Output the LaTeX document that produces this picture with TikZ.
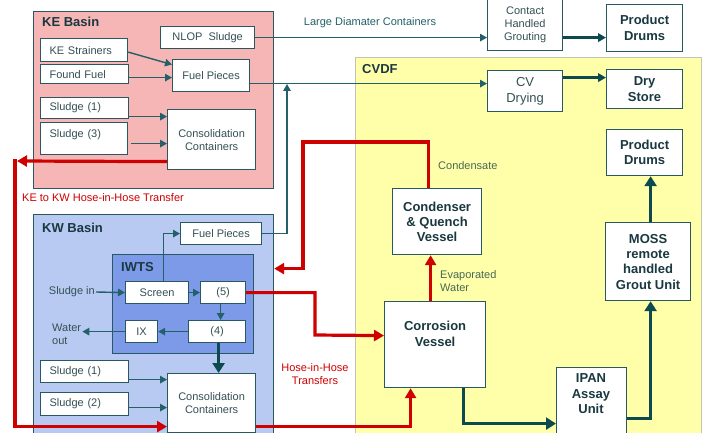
\documentclass[tikz,border=0pt]{standalone}
\usepackage{fontspec}
\setmainfont{Liberation Sans}
\usetikzlibrary{arrows.meta}

\definecolor{kefill}{RGB}{247,182,182}
\definecolor{kwfill}{RGB}{184,202,242}
\definecolor{iwtsfill}{RGB}{124,154,232}
\definecolor{cvdffill}{RGB}{255,255,170}
\definecolor{cvdfedge}{RGB}{196,196,180}
\definecolor{frame}{RGB}{42,88,96}
\definecolor{flow}{RGB}{36,96,106}
\definecolor{heavy}{RGB}{12,74,80}
\definecolor{hose}{RGB}{206,0,0}
\definecolor{ink}{RGB}{52,80,84}
\definecolor{inkdark}{RGB}{26,56,64}
\definecolor{note}{RGB}{72,104,84}

\tikzset{
  area/.style={draw=frame, line width=1.2pt, anchor=north west, inner sep=0pt},
  unit/.style={draw=frame, line width=1.2pt, fill=white, anchor=north west,
    inner sep=0pt, text=ink, align=center},
  lunit/.style={unit, align=left, inner xsep=9pt},
  heading/.style={anchor=west, inner sep=0pt, text=inkdark,
    font=\fontsize{13}{15}\selectfont\bfseries},
  btext/.style={text=inkdark, align=center,
    font=\fontsize{13}{15.5}\selectfont\bfseries},
  flowline/.style={draw=flow, line width=1.4pt, -{Triangle[length=7pt,width=7.5pt]}},
  midline/.style={draw=heavy, line width=2.2pt, -{Triangle[length=8pt,width=8.5pt]}},
  heavyline/.style={draw=heavy, line width=3.6pt, -{Triangle[length=10pt,width=12pt]}},
  hoseline/.style={draw=hose, line width=3.2pt, -{Triangle[length=10pt,width=11pt]}},
  hosetext/.style={text=hose, align=center, inner sep=0pt},
  notetext/.style={text=note, align=left, inner sep=0pt},
}

\begin{document}
\begin{tikzpicture}[x=1pt, y=-1pt, font=\fontsize{11}{13}\selectfont]
\useasboundingbox (0,0) rectangle (709,433);
\clip (0,0) rectangle (709,433);
\fill[white] (0,0) rectangle (709,433);

% ---------- facility areas ----------
\node[area, fill=kefill, minimum width=240pt, minimum height=177pt] (ke) at (33,11) {};
\node[heading] (keh) at (42,22) {KE Basin};

\node[area, fill=kwfill, minimum width=240pt, minimum height=230pt] (kw) at (33,214) {};
\node[heading] (kwh) at (42,228) {KW Basin};

\node[area, fill=iwtsfill, minimum width=141pt, minimum height=99pt] (iwts) at (112,254) {};
\node[heading] (iwtsh) at (121,267) {IWTS};

\node[area, draw=cvdfedge, fill=cvdffill, minimum width=346pt, minimum height=390pt] (cvdf) at (355,57) {};
\node[heading] (cvdfh) at (362,69) {CVDF};

% ---------- KE Basin ----------
\node[unit, minimum width=94pt, minimum height=22pt] (nlop) at (160,26) {NLOP\ \ Sludge};
\node[lunit, text width=69pt, minimum height=23pt] (kes) at (40,38) {KE Strainers};
\node[lunit, text width=70pt, minimum height=19pt] (ff) at (40,64) {Found Fuel};
\node[unit, minimum width=77pt, minimum height=32pt] (kefp) at (172,59) {Fuel Pieces};
\node[lunit, text width=70pt, minimum height=21pt] (kes1) at (40,97) {Sludge (1)};
\node[lunit, text width=69pt, minimum height=32pt, text depth=10pt] (kes3) at (40,122) {Sludge (3)};
\node[unit, minimum width=88pt, minimum height=60pt] (kecc) at (167,109) {Consolidation\\Containers};

% ---------- KW Basin ----------
\node[unit, minimum width=81pt, minimum height=22pt] (kwfp) at (180,222) {Fuel Pieces};
\node[unit, minimum width=63pt, minimum height=22pt] (scr) at (125,281) {Screen};
\node[unit, minimum width=45pt, minimum height=22pt] (p5) at (200,281) {(5)};
\node[unit, minimum width=32pt, minimum height=22pt] (ix) at (125,320) {IX};
\node[unit, minimum width=57pt, minimum height=22pt] (p4) at (188,320) {(4)};
\node[lunit, text width=70pt, minimum height=22pt] (kws1) at (40,360) {Sludge (1)};
\node[lunit, text width=70pt, minimum height=23pt] (kws2) at (40,392) {Sludge (2)};
\node[unit, minimum width=88pt, minimum height=59pt] (kwcc) at (167,373) {Consolidation\\Containers};
\node[anchor=east, inner sep=1pt, text=ink] (sin) at (96,292) {Sludge in};
\node[anchor=west, inner sep=1pt, text=ink, align=left] (wout) at (51,334) {Water\\out};

% ---------- downstream ----------
\node[unit, minimum width=75pt, minimum height=52pt] (chg) at (487,-2) {Contact\\Handled\\Grouting};
\node[unit, btext, minimum width=76pt, minimum height=47pt] (pd1) at (606,4) {Product\\Drums};
\node[unit, minimum width=75pt, minimum height=41pt, font=\fontsize{13}{16}\selectfont] (cvd) at (487,70) {CV\\Drying};
\node[unit, btext, minimum width=76pt, minimum height=39pt] (ds) at (606,69) {Dry\\Store};
\node[unit, btext, minimum width=76pt, minimum height=46pt] (pd2) at (606,129) {Product\\Drums};
\node[unit, btext, minimum width=85pt, minimum height=78pt, font=\fontsize{13}{15.3}\selectfont\bfseries] (moss) at (605,222) {MOSS\\remote\\handled\\Grout Unit};
\node[unit, btext, minimum width=89pt, minimum height=66pt, font=\fontsize{13}{15}\selectfont\bfseries] (cqv) at (392,188) {Condenser\\\& Quench\\Vessel};
\node[unit, btext, minimum width=101pt, minimum height=86pt, text depth=22pt, font=\fontsize{13}{16}\selectfont\bfseries] (cv) at (384,301) {Corrosion\\Vessel};
\node[unit, minimum width=70pt, minimum height=80pt] (ipan) at (556,367) {};
\node[btext] (ipant) at (591,394) {IPAN\\Assay\\Unit};

% ---------- labels ----------
\node[text=flow, inner sep=0pt] (ldc) at (370,23) {Large Diamater Containers};
\node[hosetext, anchor=west] (kekw) at (22,198) {KE to KW Hose-in-Hose Transfer};
\node[hosetext] (hih) at (315,374) {Hose-in-Hose\\Transfers};
\node[notetext, anchor=west] (cond) at (438,166) {Condensate};
\node[notetext, anchor=north west] (evap) at (440,270) {Evaporated\\Water};

% ---------- junction points ----------
\coordinate (fpjoin) at (287,84);
\coordinate (ketip) at (17,161);
\coordinate (kecorner) at (15,159.4);
\coordinate (hx) at (315,335);
\coordinate (hc) at (303,142);

% ---------- thin process flows ----------
\draw[flowline] (nlop.east) -- (nlop.east -| chg.west);
\draw[flowline] ([yshift=-8pt]kefp.east) -- ([yshift=-8pt]kefp.east -| cvd.west);
\draw[flowline] (kwfp.east) -| (fpjoin);
\draw[flowline] ([yshift=-2pt]kes.east) -- ([yshift=11pt]kefp.west);
\draw[flowline] ([yshift=-3.5pt]ff.east) -- ([yshift=-3.5pt]ff.east -| kefp.west);
\draw[flowline] ([yshift=-8.5pt]kes1.east) -- ([yshift=-8.5pt]kes1.east -| kecc.west);
\draw[flowline, shorten <=3pt] ([yshift=-5pt]kes3.east) -- ([yshift=-5pt]kes3.east -| kecc.west);
\draw[flowline] (sin.east) -- (scr.west);
\draw[flowline] (scr.east) -- (p5.west);
\draw[flowline] ([xshift=6.5pt]scr.north) |- (kwfp.west);
\draw[flowline] ([xshift=-2.5pt]p5.south) -- ([xshift=-2.5pt]p5.south |- p4.north);
\draw[flowline] (p4.west) -- (ix.east);
\draw[flowline] (ix.west) -- (ix.west -| wout.east);
\draw[flowline] ([yshift=-8pt]kws1.east) -- ([yshift=-8pt]kws1.east -| kwcc.west);
\draw[flowline] ([yshift=-3.5pt]kws2.east) -- ([yshift=-3.5pt]kws2.east -| kwcc.west);

% ---------- product transfers ----------
\draw[midline] ([yshift=-13pt]chg.east) -- ([yshift=-13pt]chg.east -| pd1.west);
\draw[midline] ([yshift=13.5pt]cvd.east) -- ([yshift=13.5pt]cvd.east -| ds.west);
\draw[heavyline] ([xshift=1.5pt]p4.south) -- ([xshift=1.5pt]p4.south |- kwcc.north);
\draw[heavyline] ([xshift=28.5pt]cv.south) |- ([yshift=-16pt]ipan.west);
\draw[heavyline] ([yshift=-11pt]ipan.east) -| ([xshift=2.5pt]moss.south);
\draw[heavyline] ([xshift=2.5pt]moss.north) -- ([xshift=2.5pt]moss.north |- pd2.south);

% ---------- hose-in-hose transfers ----------
\draw[hoseline] ([yshift=-22pt]kecc.west) -- (ketip);
\draw[hoseline] (kecorner) |- ([yshift=-23.5pt]kwcc.west);
\draw[hoseline] ([yshift=-23.5pt]kwcc.east) -| ([xshift=-24.5pt]cv.south);
\draw[hoseline] (p5.east) -| (hx) -- ([yshift=9pt]cv.west);
\draw[hoseline] ([xshift=-8.5pt]cqv.north) |- (hc) |- ([yshift=61pt]kw.east);
\draw[hoseline] ([xshift=-4.5pt]cv.north) -- ([xshift=-4.5pt]cv.north |- cqv.south);
\end{tikzpicture}
\end{document}
